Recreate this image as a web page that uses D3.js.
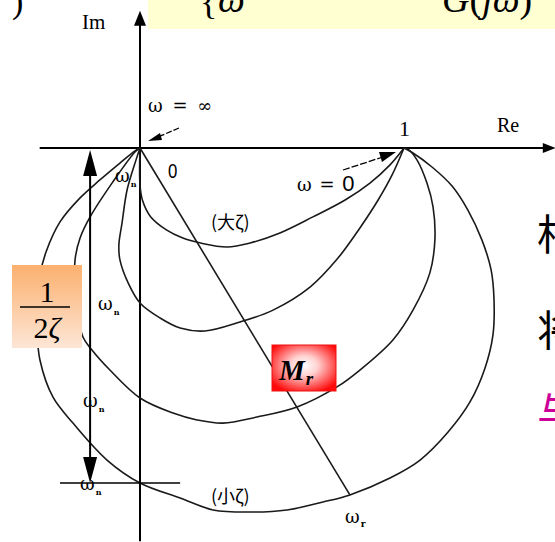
<!DOCTYPE html>
<html>
<head>
<meta charset="utf-8">
<script src="https://cdn.jsdelivr.net/npm/d3@7/dist/d3.min.js"></script>
<style>
  html, body { margin: 0; padding: 0; background: #fff; overflow: hidden; }
  svg { display: block; }
</style>
</head>
<body>
<svg id="chart" width="555" height="542"></svg>
<script>
// Nyquist loci of the standard second-order system for several damping ratios
// (points are [Re, Im] of G(jω)); from the largest ζ to the smallest ζ.
const curveLargeZeta = [[1,0],[0.947,-0.064],[0.871,-0.133],[0.777,-0.197],[0.655,-0.261],[0.530,-0.322],[0.417,-0.360],[0.33,-0.375],[0.23,-0.36],[0.16,-0.34],[0.10,-0.31],[0.04,-0.26],[0.01,-0.20],[0,-0.14],[0,0]];
const curveZeta2 = [[1,0],[0.955,-0.102],[0.902,-0.197],[0.833,-0.303],[0.750,-0.417],[0.644,-0.527],[0.504,-0.614],[0.379,-0.659],[0.246,-0.693],[0.152,-0.682],[0.076,-0.644],[0,-0.587],[-0.045,-0.511],[-0.076,-0.424],[-0.080,-0.367],[-0.068,-0.284],[-0.049,-0.159],[-0.015,-0.045],[0,0]];
const curveZeta3 = [[1,0],[1.015,-0.004],[1.049,-0.045],[1.087,-0.133],[1.110,-0.223],[1.117,-0.348],[1.098,-0.473],[1.034,-0.614],[0.958,-0.727],[0.833,-0.841],[0.746,-0.905],[0.595,-0.981],[0.443,-1.019],[0.314,-1.042],[0.216,-1.030],[0.125,-1.004],[0,-0.947],[-0.114,-0.841],[-0.182,-0.765],[-0.216,-0.716],[-0.242,-0.576],[-0.246,-0.424],[-0.227,-0.341],[-0.189,-0.261],[-0.106,-0.133],[-0.019,-0.015],[0,0]];
const curveSmallZeta = [[1,0],[1.034,-0.019],[1.106,-0.072],[1.182,-0.144],[1.242,-0.235],[1.295,-0.348],[1.330,-0.462],[1.341,-0.576],[1.337,-0.708],[1.307,-0.833],[1.250,-0.962],[1.167,-1.076],[1.061,-1.182],[0.947,-1.250],[0.795,-1.314],[0.693,-1.341],[0.557,-1.371],[0.417,-1.379],[0.277,-1.371],[0.152,-1.326],[0,-1.269],[-0.125,-1.182],[-0.254,-1.042],[-0.330,-0.943],[-0.379,-0.803],[-0.390,-0.689],[-0.390,-0.576],[-0.379,-0.481],[-0.356,-0.394],[-0.303,-0.280],[-0.227,-0.189],[-0.152,-0.121],[-0.076,-0.057],[-0.019,-0.011],[0,0]];
const curves = [curveLargeZeta, curveZeta2, curveZeta3, curveSmallZeta];

// Im-axis crossings (ω = ωn), where G(jωn) = -j/(2ζ)
const omegaNCrossings = [-0.14, -0.587, -0.947, -1.269];
// resonant point on the small-ζ locus (ω = ωr)
const omegaRPoint = [0.795, -1.314];

// axis extents and tick labels
const reExtent = [-0.38, 1.575];
const imExtent = [0.52, -1.49];
const tickLabels = [{v: 0, t: "0"}, {v: 1, t: "1"}];

const svg = d3.select("#chart");
const x = d3.scaleLinear().domain([0, 1]).range([140, 404]);
const y = d3.scaleLinear().domain([0, -1]).range([148, 412]);

// header strip with the frequency-response formula
svg.append("rect").attr("x", 148).attr("y", 0).attr("width", 407).attr("height", 29).attr("fill", "#ffffd2");
svg.append("text").attr("x", 12).attr("y", 13).attr("font-family", "Liberation Serif").attr("font-size", 34).text(")");
svg.append("text").attr("x", 200).attr("y", 14).attr("font-family", "Liberation Serif").attr("font-size", 36).text("{");
svg.append("text").attr("x", 218).attr("y", 12).attr("font-family", "Liberation Serif").attr("font-style", "italic").attr("font-size", 38).text("ω");
svg.append("text").attr("x", 442).attr("y", 12).attr("font-family", "Liberation Serif").attr("font-size", 38)
  .html('<tspan font-style="italic">G</tspan>(<tspan font-style="italic">j</tspan><tspan font-style="italic">ω</tspan>)');

// axes
const axisColor = "#000";
svg.append("line").attr("x1", x(reExtent[0])).attr("x2", x(reExtent[1]) - 8).attr("y1", y(0)).attr("y2", y(0))
  .attr("stroke", axisColor).attr("stroke-width", 2);
svg.append("path").attr("d", `M${x(reExtent[1])},${y(0)} L${x(reExtent[1]) - 13},${y(0) - 5} L${x(reExtent[1]) - 13},${y(0) + 5}Z`).attr("fill", axisColor);
svg.append("line").attr("x1", x(0)).attr("x2", x(0)).attr("y1", y(imExtent[0]) + 10).attr("y2", y(imExtent[1]))
  .attr("stroke", axisColor).attr("stroke-width", 2);
svg.append("path").attr("d", `M${x(0)},${y(imExtent[0])} L${x(0) - 6},${y(imExtent[0]) + 15} L${x(0) + 6},${y(imExtent[0]) + 15}Z`).attr("fill", axisColor);

svg.append("text").attr("x", 82).attr("y", 29).attr("font-family", "Liberation Serif").attr("font-size", 21).text("Im");
svg.append("text").attr("x", 497).attr("y", 132).attr("font-family", "Liberation Serif").attr("font-size", 20).text("Re");
svg.append("text").attr("x", x(tickLabels[1].v) - 5).attr("y", 136).attr("font-family", "Liberation Serif").attr("font-size", 22).text(tickLabels[1].t);
svg.append("text").attr("x", x(tickLabels[0].v) + 28).attr("y", 178).attr("font-family", "Liberation Sans").attr("font-size", 21)
  .attr("transform", `translate(${x(0) + 28},0) scale(0.8,1) translate(${-(x(0) + 28)},0)`).text(tickLabels[0].t);

// loci
const line = d3.line().x(d => x(d[0])).y(d => y(d[1])).curve(d3.curveCatmullRom.alpha(0.5));
svg.append("g").selectAll("path").data(curves).join("path")
  .attr("d", line).attr("fill", "none").attr("stroke", "#1a1a1a").attr("stroke-width", 1.6);

// ray from the origin to the resonant point
svg.append("line").attr("x1", x(0)).attr("y1", y(0)).attr("x2", x(omegaRPoint[0])).attr("y2", y(omegaRPoint[1]))
  .attr("stroke", "#1a1a1a").attr("stroke-width", 1.6);

// 1/(2ζ) dimension arrow for the small-ζ locus
const dimX = x(-0.189);
const yTop = y(0) + 2, yBot = y(omegaNCrossings[3]);
svg.append("line").attr("x1", dimX).attr("x2", dimX).attr("y1", yTop + 20).attr("y2", yBot - 20).attr("stroke", "#000").attr("stroke-width", 2);
svg.append("path").attr("d", `M${dimX},${yTop} L${dimX - 7},${yTop + 26} L${dimX + 7},${yTop + 26}Z`).attr("fill", "#000");
svg.append("path").attr("d", `M${dimX},${yBot} L${dimX - 7},${yBot - 26} L${dimX + 7},${yBot - 26}Z`).attr("fill", "#000");
svg.append("line").attr("x1", x(-0.303)).attr("x2", x(0.152)).attr("y1", yBot).attr("y2", yBot).attr("stroke", "#000").attr("stroke-width", 1.5);

// ω = ∞ and ω = 0 pointers
svg.append("text").attr("x", 148).attr("y", 112).attr("font-family", "DejaVu Serif").attr("font-size", 18)
  .attr("letter-spacing", 2).text("ω = ∞");
svg.append("line").attr("x1", 179).attr("y1", 128).attr("x2", 158).attr("y2", 137).attr("stroke", "#000").attr("stroke-width", 1.3).attr("stroke-dasharray", "6,2");
svg.append("path").attr("d", "M148,141 L160,133 L162,140Z").attr("fill", "#000");
svg.append("text").attr("x", 297).attr("y", 191).attr("font-family", "DejaVu Serif").attr("font-size", 18).attr("letter-spacing", 1)
  .html('ω = <tspan font-family="Liberation Sans" font-size="22">0</tspan>');
svg.append("line").attr("x1", 343).attr("y1", 170).attr("x2", 383).attr("y2", 157).attr("stroke", "#000").attr("stroke-width", 1.3).attr("stroke-dasharray", "7,2");
svg.append("path").attr("d", "M396,152 L379,152 L382,162Z").attr("fill", "#000");

// ωn labels at each Im-axis crossing, and ωr
const omegaNLabelX = [115, 98, 83, 80];
const omegaNLabelDy = [-10, 0, 2, 0];
omegaNCrossings.forEach((c, i) => {
  const t = svg.append("text").attr("x", omegaNLabelX[i]).attr("y", y(c) + omegaNLabelDy[i] + 7)
    .attr("font-family", "DejaVu Serif").attr("font-size", 18).attr("fill", "#000");
  t.append("tspan").text("ω");
  t.append("tspan").attr("dx", 1).attr("dy", 5).attr("font-size", 8).attr("font-weight", "bold").text("n");
});
const wr = svg.append("text").attr("x", 345).attr("y", 523).attr("font-family", "DejaVu Serif").attr("font-size", 18);
wr.append("tspan").text("ω");
wr.append("tspan").attr("dx", 1).attr("dy", 4).attr("font-size", 9).attr("font-weight", "bold").text("r");

// damping labels
svg.append("text").attr("x", 211).attr("y", 229).attr("font-family", "Noto Sans CJK SC").attr("font-size", 18).attr("fill", "#000").text("(大ζ)");
svg.append("text").attr("x", 211).attr("y", 503).attr("font-family", "Noto Sans CJK SC").attr("font-size", 18).attr("fill", "#000").text("(小ζ)");

// 1/(2ζ) callout
const defs = svg.append("defs");
const og = defs.append("linearGradient").attr("id", "orangeFill").attr("x1", 0).attr("y1", 0).attr("x2", 0).attr("y2", 1);
og.append("stop").attr("offset", "0%").attr("stop-color", "#fbb06e");
og.append("stop").attr("offset", "100%").attr("stop-color", "#fde6d6");
svg.append("rect").attr("x", 12).attr("y", 265).attr("width", 70).attr("height", 83).attr("fill", "url(#orangeFill)");
svg.append("text").attr("x", 47).attr("y", 302).attr("text-anchor", "middle").attr("font-family", "Liberation Serif").attr("font-size", 30).text("1");
svg.append("line").attr("x1", 20).attr("x2", 70).attr("y1", 307).attr("y2", 307).attr("stroke", "#000").attr("stroke-width", 1.5);
svg.append("text").attr("x", 47).attr("y", 338).attr("text-anchor", "middle").attr("font-family", "Liberation Serif").attr("font-size", 30)
  .html('2<tspan font-style="italic">ζ</tspan>');

// Mr callout
const rg = defs.append("radialGradient").attr("id", "redFill").attr("cx", "50%").attr("cy", "45%").attr("r", "62%");
rg.append("stop").attr("offset", "0%").attr("stop-color", "#ffffff");
rg.append("stop").attr("offset", "35%").attr("stop-color", "#ffd0d0");
rg.append("stop").attr("offset", "100%").attr("stop-color", "#ff0a0a");
svg.append("rect").attr("x", 272).attr("y", 345).attr("width", 64).attr("height", 46).attr("fill", "url(#redFill)").attr("stroke", "#ee1111").attr("stroke-width", 1);
const mr = svg.append("text").attr("x", 279).attr("y", 380).attr("font-family", "Liberation Serif").attr("font-weight", "bold").attr("font-style", "italic").attr("font-size", 29);
mr.append("tspan").text("M");
mr.append("tspan").attr("dx", 1).attr("dy", 5).attr("font-size", 19).text("r");

// text column continuing beyond the right edge
svg.append("text").attr("x", 537).attr("y", 250).attr("font-family", "Noto Sans CJK SC").attr("font-size", 42).attr("fill", "#000").text("相");
svg.append("text").attr("x", 537).attr("y", 346).attr("font-family", "Noto Sans CJK SC").attr("font-size", 42).attr("fill", "#000").text("将");
svg.append("text").attr("x", 537).attr("y", 428).attr("font-family", "Noto Sans CJK SC").attr("font-size", 42).attr("fill", "#cc0099").text("与");
</script>
</body>
</html>
